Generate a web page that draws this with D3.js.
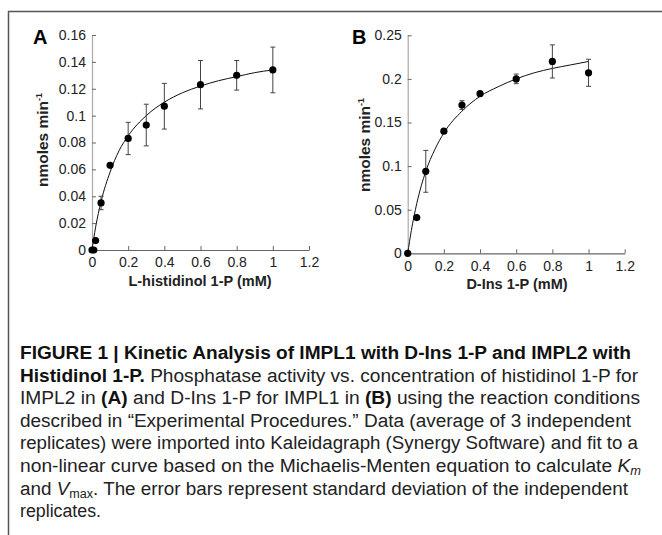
<!DOCTYPE html>
<html><head><meta charset="utf-8">
<script src="https://cdn.jsdelivr.net/npm/d3@7"></script>
<style>
body{margin:0;background:#fff;}
svg{display:block;}
svg text{font-family:"Liberation Sans",Arial,Helvetica,sans-serif;}
</style></head>
<body><svg id="c" width="662" height="535"></svg>
<script>
// ---- Data ----
const xTicks = [0, 0.2, 0.4, 0.6, 0.8, 1, 1.2];
const yTicksA = [0, 0.02, 0.04, 0.06, 0.08, 0.1, 0.12, 0.14, 0.16];
const yTicksB = [0, 0.05, 0.1, 0.15, 0.2, 0.25];

const concA = [0, 0.01, 0.02, 0.05, 0.1, 0.2, 0.3, 0.4, 0.6, 0.8, 1.0];
const rateA = [0, 0, 0.007, 0.035, 0.063, 0.083, 0.093, 0.107, 0.123, 0.130, 0.134];
const sdA   = [0, 0, 0, 0.005, 0, 0.012, 0.0155, 0.017, 0.018, 0.011, 0.017];

const concB = [0, 0.05, 0.1, 0.2, 0.3, 0.4, 0.6, 0.8, 1.0];
const rateB = [0, 0.041, 0.094, 0.140, 0.170, 0.183, 0.200, 0.220, 0.207];
const sdB   = [0, 0, 0.024, 0, 0.005, 0, 0.0055, 0.019, 0.0155];

// fitted curves
const fitXA = [0, 0.02, 0.05, 0.1, 0.15, 0.2, 0.3, 0.4, 0.5, 0.6, 0.7, 0.8, 0.9, 1.0];
const fitYA = [0, 0.017, 0.036, 0.058, 0.074, 0.085, 0.100, 0.110, 0.117, 0.122, 0.126, 0.129, 0.132, 0.134];
const fitXB = [0, 0.02, 0.05, 0.1, 0.15, 0.2, 0.3, 0.4, 0.5, 0.6, 0.7, 0.8, 0.9, 1.0];
const fitYB = [0, 0.026, 0.057, 0.094, 0.119, 0.138, 0.163, 0.180, 0.191, 0.200, 0.207, 0.212, 0.216, 0.220];

const FONT = '"Liberation Sans", Arial, Helvetica, sans-serif';
const svg = d3.select("#c");

// frame
svg.append("line").attr("x1",8).attr("x2",662).attr("y1",11.5).attr("y2",11.5).attr("stroke","#555").attr("stroke-width",1.5);
svg.append("line").attr("x1",8.5).attr("x2",8.5).attr("y1",11).attr("y2",535).attr("stroke","#555").attr("stroke-width",1.5);

function panel(o){
  const x = d3.scaleLinear().domain([0,1.2]).range([o.x0, o.x1]);
  const y = d3.scaleLinear().domain([0,o.ymax]).range([o.y0, o.y1]);
  const g = svg.append("g");
  // y axis
  const ya = g.append("g").attr("transform",`translate(${o.x0},0)`)
    .call(d3.axisLeft(y).tickValues(o.yTicks).tickFormat(d3.format("~g")).tickSizeInner(-4).tickSizeOuter(0).tickPadding(6));
  ya.attr("font-family",null).attr("font-size",null);
  ya.select(".domain").attr("stroke","#aaa").attr("stroke-width",1.2);
  ya.selectAll(".tick line").attr("stroke","#666");
  ya.selectAll("text").style("font-size","14px").style("font-family",FONT).attr("fill","#222");
  // x axis
  const xa = g.append("g").attr("transform",`translate(0,${o.y0})`)
    .call(d3.axisBottom(x).tickValues(xTicks).tickFormat(d3.format("~g")).tickSizeInner(-4).tickSizeOuter(0).tickPadding(4));
  xa.attr("font-family",null).attr("font-size",null);
  xa.select(".domain").attr("stroke","#666").attr("stroke-width",1.2);
  xa.selectAll(".tick line").attr("stroke","#666");
  xa.selectAll("text").style("font-size","14px").style("font-family",FONT).attr("fill","#222").attr("dy","0.95em");
  // curve
  const line = d3.line().x((d,i)=>x(o.fx[i])).y((d,i)=>y(o.fy[i])).curve(d3.curveMonotoneX);
  g.append("path").datum(o.fx).attr("d",line).attr("fill","none").attr("stroke","#111").attr("stroke-width",1);
  // error bars
  const eb = g.append("g").attr("stroke","#444").attr("stroke-width",1);
  o.cx.forEach((c,i)=>{
    if(o.sd[i]<=0) return;
    const xx = x(c), t = y(o.cy[i]+o.sd[i]), b = y(o.cy[i]-o.sd[i]);
    eb.append("line").attr("x1",xx).attr("x2",xx).attr("y1",t).attr("y2",b);
    eb.append("line").attr("x1",xx-2.5).attr("x2",xx+2.5).attr("y1",t).attr("y2",t);
    eb.append("line").attr("x1",xx-2.5).attr("x2",xx+2.5).attr("y1",b).attr("y2",b);
  });
  // points
  g.append("g").selectAll("circle").data(o.cx).join("circle")
    .attr("cx",d=>x(d)).attr("cy",(d,i)=>y(o.cy[i])).attr("r",3.6).attr("fill","#000");
  // panel letter
  g.append("text").attr("x",o.lx).attr("y",o.ly).style("font-size","20px").attr("font-weight","bold").attr("fill","#000").text(o.letter);
  // x label
  g.append("text").attr("x",o.xlx).attr("y",o.y0+36).attr("text-anchor","middle").style("font-size","14.5px").attr("font-weight","bold").attr("fill","#222").text(o.xlabel);
  // y label
  const yl = g.append("text").attr("transform",`translate(${o.ylx},${o.yly}) rotate(-90)`).attr("text-anchor","middle")
    .style("font-size","15.5px").attr("font-weight","bold").attr("fill","#222");
  yl.append("tspan").text("nmoles min");
  yl.append("tspan").attr("dy","-6").style("font-size","9px").text("-1");
}

panel({x0:92, x1:309, y0:250, y1:35, ymax:0.16, yTicks:yTicksA, cx:concA, cy:rateA, sd:sdA, fx:fitXA, fy:fitYA,
  letter:"A", lx:33, ly:44, xlabel:"L-histidinol 1-P (mM)", xlx:200, ylx:48, yly:140});
panel({x0:407.7, x1:624.7, y0:253.3, y1:35.3, ymax:0.25, yTicks:yTicksB, cx:concB, cy:rateB, sd:sdB, fx:fitXB, fy:fitYB,
  letter:"B", lx:352, ly:44, xlabel:"D-Ins 1-P (mM)", xlx:517, ylx:370, yly:145});

// caption
const cap = svg.append("g").attr("fill","#222");
const lines = [
  {w:611, parts:[["FIGURE 1 | Kinetic Analysis of IMPL1 with D-Ins 1-P and IMPL2 with","b"]]},
  {w:618, parts:[["Histidinol 1-P.","b"],[" Phosphatase activity vs. concentration of histidinol 1-P for",""]]},
  {w:620, parts:[["IMPL2 in ",""],["(A)","b"],[" and D-Ins 1-P for IMPL1 in ",""],["(B)","b"],[" using the reaction conditions",""]]},
  {w:611, parts:[["described in \u201CExperimental Procedures.\u201D Data (average of 3 independent",""]]},
  {w:618, parts:[["replicates) were imported into Kaleidagraph (Synergy Software) and fit to a",""]]},
  {w:621, parts:[["non-linear curve based on the Michaelis-Menten equation to calculate ",""],["K","i"],["m","is"]]},
  {w:608, parts:[["and ",""],["V","i"],["max","s"],[". The error bars represent standard deviation of the independent",""]]},
  {w:81, parts:[["replicates.",""]]}
];
lines.forEach((ln,i)=>{
  const t = cap.append("text").attr("x",20).attr("y",359+i*22.6)
    .style("font-size","18px").style("font-family",FONT)
    .attr("textLength",ln.w).attr("lengthAdjust","spacingAndGlyphs");
  let prevSub = false;
  ln.parts.forEach(([s,st])=>{
    const ts = t.append("tspan").text(s);
    if(st.includes("b")) ts.attr("font-weight","bold").attr("fill","#111");
    if(st.includes("i")) ts.attr("font-style","italic");
    if(st.includes("s")) { ts.style("font-size","12px").attr("dy","3"); prevSub = true; }
    else if(prevSub) { ts.attr("dy","-3"); prevSub = false; }
  });
});
</script></body></html>
